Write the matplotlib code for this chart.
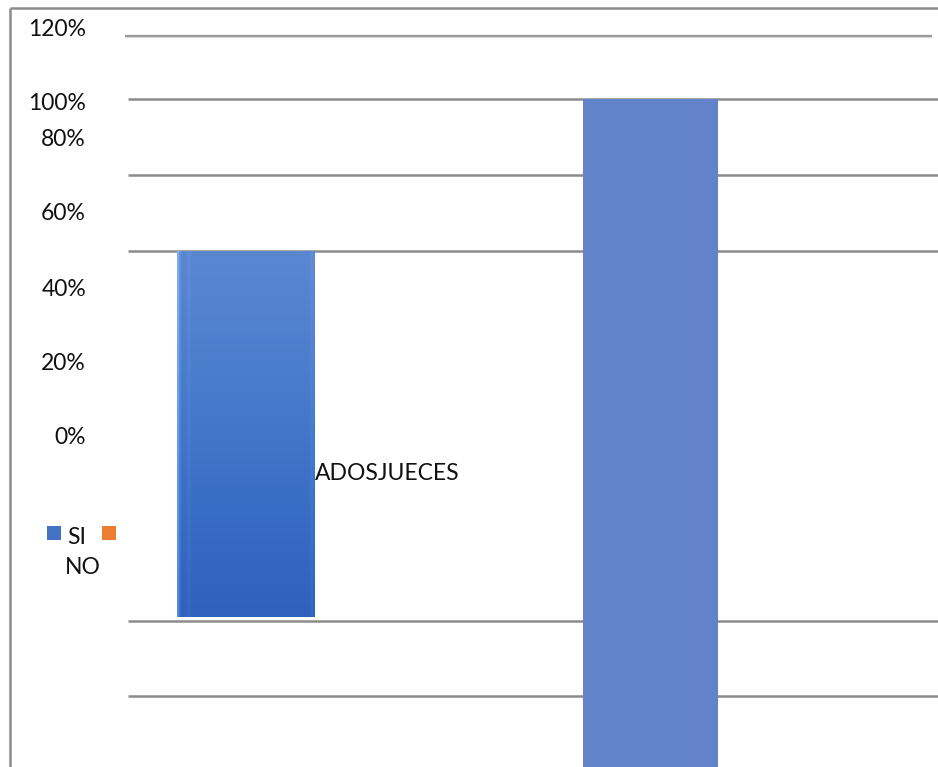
import numpy as np
import matplotlib
matplotlib.use("Agg")
import matplotlib.pyplot as plt
from matplotlib.colors import LinearSegmentedColormap
from matplotlib.patches import Rectangle

# --- data -------------------------------------------------------------
categories = ["ABOGADOS", "JUECES"]
values = [50, 100]                      # percent
category_text = "ADOSJUECES"
tick_labels = ["120%", "100%", "80%", "60%", "40%", "20%", "0%"]
legend_labels = ["SI", "NO"]
legend_colors = ["#4472c4", "#ed7d31"]

# --- layout (pixel based) --------------------------------------------
W, H = 938, 767
PX_PER_PCT = 7.32          # vertical scale of the bars
BASE_PX = 617              # baseline of the first bar, from the top

def py2d(py):
    """pixel row (from top) -> data value on the percent axis"""
    return (BASE_PX - py) / PX_PER_PCT

fig = plt.figure(figsize=(W / 100, H / 100), dpi=100)
ax = fig.add_axes([0, 0, 1, 1])
ax.set_xlim(0, W)
ax.set_ylim(py2d(H), py2d(0))
ax.axis("off")

plt.rcParams["font.family"] = ["Lato", "DejaVu Sans"]
FS = 16.5

# frame lines (left and top)
ax.plot([9.5, 9.5], [py2d(7.5), py2d(H + 5)], color="#8c8c8c", lw=1.8,
        solid_capstyle="butt")
ax.plot([9.5, W], [py2d(7.5), py2d(7.5)], color="#8c8c8c", lw=1.8,
        solid_capstyle="butt")

# horizontal gridlines
ax.plot([125, 932], [py2d(35.5), py2d(35.5)], color="#9a9a9a", lw=1.6,
        solid_capstyle="butt", zorder=1)
ax.plot([125, 932], [py2d(36.7), py2d(36.7)], color="#d6d6d6", lw=0.8,
        solid_capstyle="butt", zorder=1)
for gy in [98.7, 175, 250.7, 620.7, 695.7]:
    ax.plot([128, W], [py2d(gy), py2d(gy)], color="#8c8c8c", lw=1.8,
            solid_capstyle="butt", zorder=1)

# bars: per-bar centre, width and baseline row
bar_x = [246, 650.5]
bar_w = [138, 135]
bar_base_px = [617, 617 + 100 * PX_PER_PCT - 518]
bottoms = [py2d(b) for b in bar_base_px]

# first bar: vertical blue gradient with faint column streaks
b1 = ax.bar(bar_x[0], values[0], width=bar_w[0], bottom=bottoms[0],
            color="none", zorder=2)[0]
grad_cmap = LinearSegmentedColormap.from_list(
    "g", ["#5b87d1", "#4a7dcd", "#3a6fc6", "#2f62bb"])
ny, nx = 200, 138
col = np.linspace(0, 1, ny)[:, None] * np.ones((1, nx))
img = grad_cmap(col)
streak = np.zeros(nx)
streak[0:2] = 0.15
streak[2:4] = 0.05
streak[10:14] = 0.02
streak[-5:-1] = 0.02
img[:, :, :3] = np.clip(img[:, :, :3] + streak[None, :, None], 0, 1)
x0 = bar_x[0] - bar_w[0] / 2
im = ax.imshow(img, extent=[x0, x0 + bar_w[0], bottoms[0], bottoms[0] + values[0]],
               aspect="auto", origin="upper", zorder=2, interpolation="bilinear")
im.set_clip_path(b1)

# second bar: flat fill
ax.bar(bar_x[1], values[1], width=bar_w[1], bottom=bottoms[1],
       color="#6283c9", zorder=2)

# axis value labels
label_rows = [29.5, 103, 139, 214, 289, 363.5, 437.5]
for txt, ry in zip(tick_labels, label_rows):
    ax.text(86, py2d(ry), txt, ha="right", va="center", fontsize=FS,
            color="#111111", zorder=3)

# category text
ax.text(315, py2d(473), category_text, ha="left", va="center", fontsize=FS,
        color="#111111", zorder=3)

# legend
for xpx, c in zip([47, 102], legend_colors):
    ax.add_patch(Rectangle((xpx, py2d(540)), 14, 14 / PX_PER_PCT,
                           facecolor=c, edgecolor="none", zorder=3))
ax.text(67, py2d(538), legend_labels[0], ha="left", va="center",
        fontsize=FS, color="#111111", zorder=3)
ax.text(65, py2d(568), legend_labels[1], ha="left", va="center",
        fontsize=FS, color="#111111", zorder=3)

fig.savefig("out.png", dpi=100)
